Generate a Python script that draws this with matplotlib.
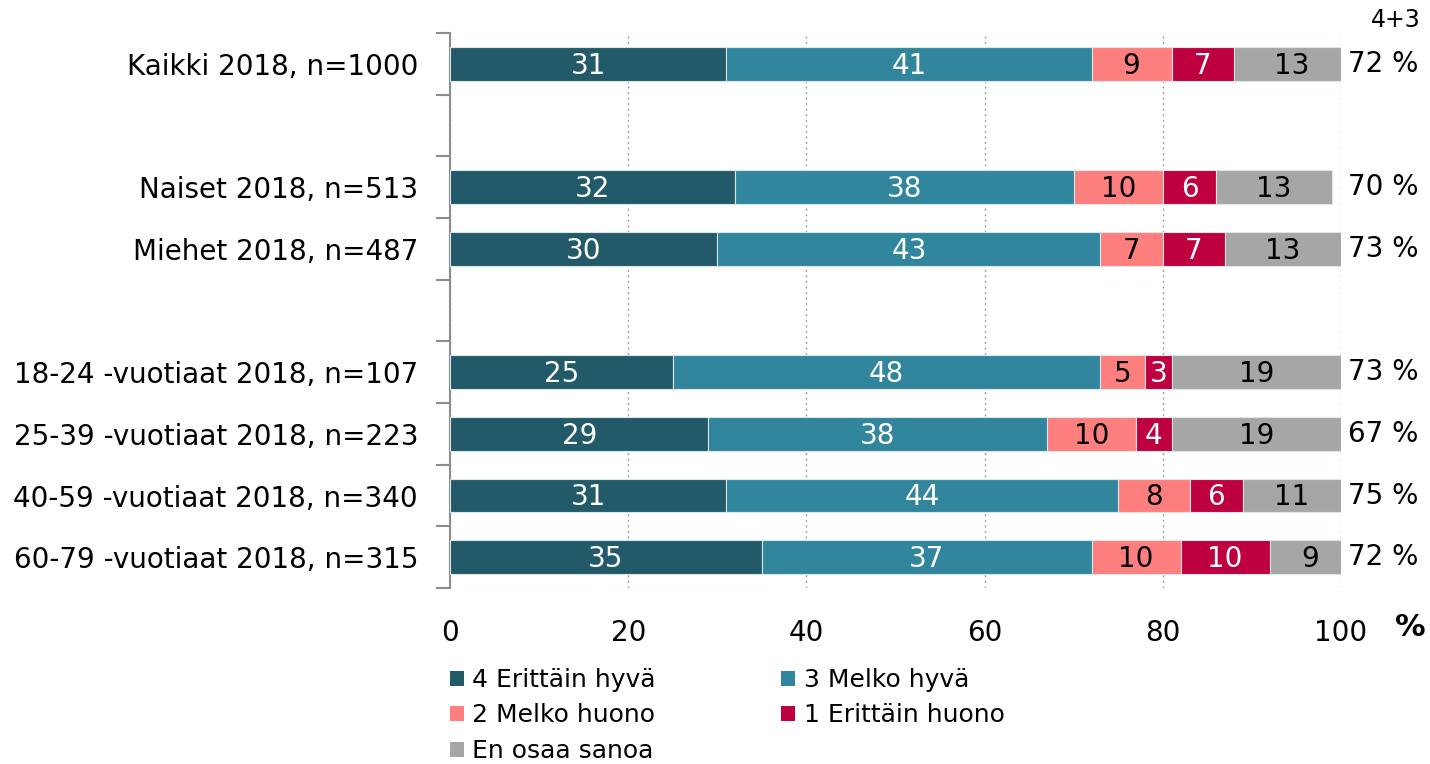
import numpy as np
import matplotlib.pyplot as plt
from matplotlib.patches import Patch

# rows top to bottom, "" = empty spacer row
categories = ["Kaikki 2018, n=1000", "",
              "Naiset 2018, n=513", "Miehet 2018, n=487", "",
              "18-24 -vuotiaat 2018, n=107", "25-39 -vuotiaat 2018, n=223",
              "40-59 -vuotiaat 2018, n=340", "60-79 -vuotiaat 2018, n=315"]

series = ["4 Erittäin hyvä", "3 Melko hyvä", "2 Melko huono",
          "1 Erittäin huono", "En osaa sanoa"]

erittain_hyva = [31, None, 32, 30, None, 25, 29, 31, 35]
melko_hyva    = [41, None, 38, 43, None, 48, 38, 44, 37]
melko_huono   = [9, None, 10, 7, None, 5, 10, 8, 10]
erittain_huono = [7, None, 6, 7, None, 3, 4, 6, 10]
en_osaa       = [13, None, 13, 13, None, 19, 19, 11, 9]

sum_43 = ["72 %", "", "70 %", "73 %", "", "73 %", "67 %", "75 %", "72 %"]

colors = ["#235A69", "#31869E", "#FF7F7F", "#BE0040", "#A6A6A6"]
text_colors = ["white", "white", "black", "white", "black"]

plt.rcParams['font.family'] = ['DejaVu Sans']

fig = plt.figure(figsize=(14.3, 7.64), dpi=100)
ax = fig.add_axes([450 / 1430, 1 - 588 / 764, 891 / 1430, 555 / 764])

y = np.arange(len(categories))
data = [erittain_hyva, melko_hyva, melko_huono, erittain_huono, en_osaa]

for i, yi in enumerate(y):
    if categories[i] == "":
        continue
    left = 0
    for s, vals in enumerate(data):
        v = vals[i]
        ax.barh(yi, v, left=left, height=0.55, color=colors[s],
                edgecolor="#D9E6EA", linewidth=0.8, zorder=3)
        ax.text(left + v / 2, yi + 0.03, str(v), ha="center", va="center",
                fontsize=20, color=text_colors[s], zorder=4)
        left += v
    ax.text(100.8, yi, sum_43[i], ha="left", va="center", fontsize=20,
            clip_on=False)

fig.text(1396 / 1430, 1 - 20 / 764, "4+3", ha="center", va="center", fontsize=17)

ax.set_xlim(0, 100)
ax.set_ylim(len(categories) - 0.5, -0.5)
ax.set_xticks(np.arange(0, 101, 20))
ax.set_yticks(y)
ax.set_yticklabels(categories, fontsize=20)
ax.set_yticks(np.arange(-0.5, len(categories)), minor=True)
ax.tick_params(axis="y", which="major", length=0, pad=23)
ax.tick_params(axis="y", which="minor", length=10, width=1.5, color="#8C8C8C")
ax.tick_params(axis="x", length=0, labelsize=20, pad=22)

ax.grid(axis="x", linestyle=(0, (1.5, 2.5)), color="#A0A0A0", linewidth=1.0, zorder=0)
for side in ["top", "right", "bottom"]:
    ax.spines[side].set_visible(False)
ax.spines["left"].set_color("#8C8C8C")
ax.spines["left"].set_linewidth(1.5)

fig.text(1410 / 1430, 1 - 627 / 764, "%", fontsize=22, fontweight="bold",
         ha="center", va="center")

handles = [Patch(facecolor=c, label=l) for c, l in zip(colors, series)]
order = [0, 2, 4, 1, 3]
fig.legend([handles[k] for k in order], [series[k] for k in order],
           ncol=2, loc="upper left", bbox_to_anchor=(450 / 1430, 1 - 668 / 764),
           frameon=False, fontsize=18, handlelength=0.55, handleheight=0.55,
           handletextpad=0.35, columnspacing=5.0, labelspacing=0.46,
           borderaxespad=0, borderpad=0)

fig.savefig("out.png", dpi=100)
